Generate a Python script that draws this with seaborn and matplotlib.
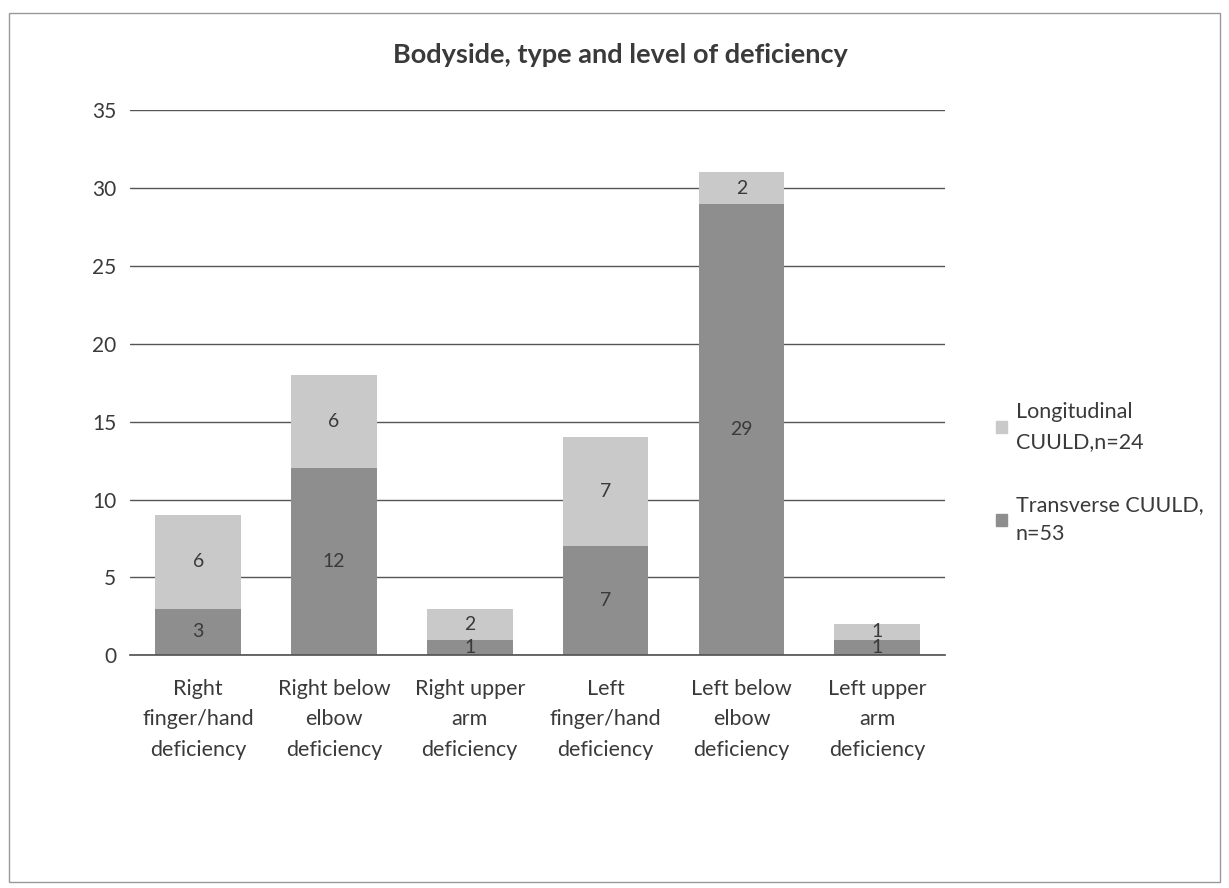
import pandas as pd
import seaborn as sns
import matplotlib.pyplot as plt
from matplotlib.patches import Patch, Rectangle

# data
categories = ["Right\nfinger/hand\ndeficiency", "Right below\nelbow\ndeficiency",
              "Right upper\narm\ndeficiency", "Left\nfinger/hand\ndeficiency",
              "Left below\nelbow\ndeficiency", "Left upper\narm\ndeficiency"]
transverse = [3, 12, 1, 7, 29, 1]
longitudinal = [6, 6, 2, 7, 2, 1]

df = pd.DataFrame({"cat": categories, "trans": transverse, "long": longitudinal})
df["total"] = df["trans"] + df["long"]

sns.set_theme(style="white")
plt.rcParams['font.family'] = ['Lato', 'DejaVu Sans']

light = "#c9c9c9"
dark = "#8e8e8e"
txt = "#3a3a3a"

fig = plt.figure(figsize=(12.29, 8.88), dpi=100)
ax = fig.add_axes([0.106, 0.262, 0.663, 0.614])

# stacked: totals in light, transverse in dark on top of it
sns.barplot(df, x="cat", y="total", color=light, width=0.63, saturation=1,
            linewidth=0, ax=ax)
sns.barplot(df, x="cat", y="trans", color=dark, width=0.63, saturation=1,
            linewidth=0, ax=ax)

for i, row in df.iterrows():
    ax.text(i, row["trans"] / 2, str(row["trans"]), ha="center", va="center",
            fontsize=14, color=txt)
    ax.text(i, row["trans"] + row["long"] / 2, str(row["long"]), ha="center",
            va="center", fontsize=14, color=txt)

ax.set_ylim(0, 35)
ax.set_yticks(range(0, 36, 5))
ax.set_xlim(-0.5, 5.5)
ax.yaxis.grid(True, color="#555555", linewidth=1)
ax.set_axisbelow(True)
for s in ["top", "right", "left"]:
    ax.spines[s].set_visible(False)
ax.spines["bottom"].set_color("#555555")
ax.set_xlabel("")
ax.set_ylabel("")
ax.tick_params(axis="x", length=0, labelsize=15.5, colors=txt, pad=17)
ax.tick_params(axis="y", length=0, labelsize=15, colors=txt, pad=10)
for lab in ax.get_xticklabels():
    lab.set_linespacing(1.65)

fig.text(0.505, 0.938, "Bodyside, type and level of deficiency", ha="center",
         va="center", fontsize=19.5, fontweight="bold", color=txt)

handles = [Patch(color=light, label="Longitudinal\nCUULD,n=24"),
           Patch(color=dark, label="Transverse CUULD,\nn=53")]
leg = fig.legend(handles=handles, loc="center left", bbox_to_anchor=(0.795, 0.467),
                 frameon=False, fontsize=15.5, labelspacing=2.0, handlelength=0.5,
                 handleheight=0.5, handletextpad=0.4, labelcolor=txt)
for t in leg.get_texts():
    t.set_linespacing(1.6)

# outer chart border
fig.patches.append(Rectangle((0.007, 0.007), 0.986, 0.978, transform=fig.transFigure,
                             fill=False, edgecolor="#999999", linewidth=1))

fig.savefig("out.png", dpi=100)
